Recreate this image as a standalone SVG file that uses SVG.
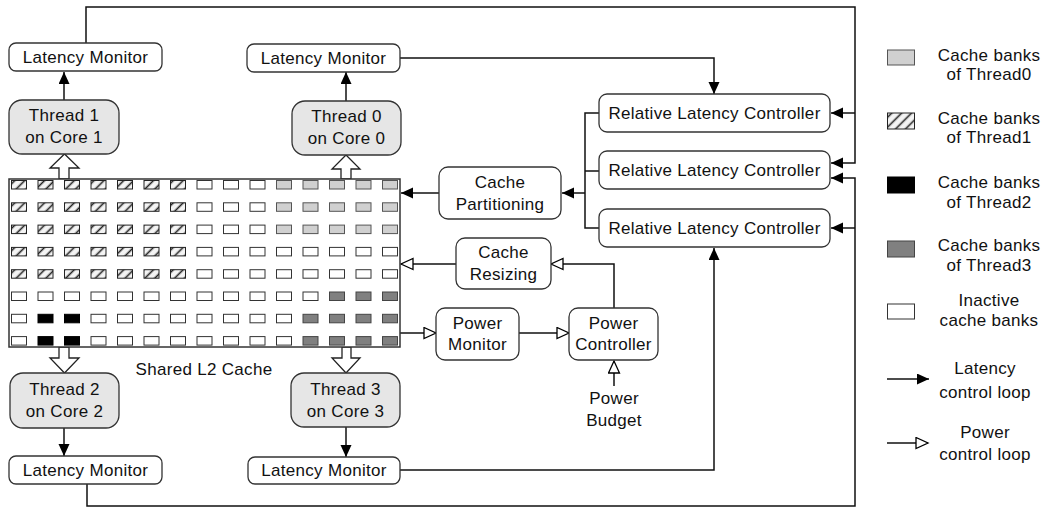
<svg xmlns="http://www.w3.org/2000/svg" xmlns:xlink="http://www.w3.org/1999/xlink" width="1044" height="508" viewBox="0 0 1044 508">
<style>
text{font-family:"Liberation Sans",Arial,sans-serif;font-size:17px;fill:#111;text-anchor:middle;dominant-baseline:central;letter-spacing:0.3px}
.box{fill:#fff;stroke:#333;stroke-width:1.3}
.thr{fill:#e6e6e6;stroke:#333;stroke-width:1.3}
.ln{fill:none;stroke:#111;stroke-width:1.5}
.lat{marker-end:url(#fa)}
.pow{marker-end:url(#ha)}
.blk{fill:#fff;stroke:#222;stroke-width:1.3}
.e{fill:#fff;stroke:#333;stroke-width:1}
.t0{fill:#d0d0d0;stroke:#555;stroke-width:1}
.t1{fill:url(#hatch);stroke:#222;stroke-width:1}
.t2{fill:#000;stroke:#000;stroke-width:1}
.t3{fill:#808080;stroke:#444;stroke-width:1}
</style>
<defs>
<marker id="fa" markerUnits="userSpaceOnUse" markerWidth="14" markerHeight="14" refX="12" refY="5.5" orient="auto">
<path d="M0,0 L12,5.5 L0,11 z" fill="#000"/>
</marker>
<marker id="ha" markerUnits="userSpaceOnUse" markerWidth="15" markerHeight="15" refX="13" refY="6.5" orient="auto">
<path d="M1,1 L13,6.5 L1,12 z" fill="#fff" stroke="#000" stroke-width="1.3"/>
</marker>
<pattern id="hatch" patternUnits="userSpaceOnUse" width="7" height="7" patternTransform="rotate(45)">
<rect width="7" height="7" fill="#f4f4f4"/>
<line x1="3.5" y1="0" x2="3.5" y2="7" stroke="#222" stroke-width="1.6"/>
</pattern>
<g id="rowA">
<rect class="t1" x="11.5" width="15" height="8.5"/><rect class="t1" x="38" width="15" height="8.5"/><rect class="t1" x="64.5" width="15" height="8.5"/><rect class="t1" x="91" width="15" height="8.5"/><rect class="t1" x="117.5" width="15" height="8.5"/><rect class="t1" x="144" width="15" height="8.5"/><rect class="t1" x="170.5" width="15" height="8.5"/><rect class="e" x="197" width="15" height="8.5"/><rect class="e" x="223.5" width="15" height="8.5"/><rect class="e" x="250" width="15" height="8.5"/><rect class="t0" x="276.5" width="15" height="8.5"/><rect class="t0" x="303" width="15" height="8.5"/><rect class="t0" x="329.5" width="15" height="8.5"/><rect class="t0" x="356" width="15" height="8.5"/><rect class="t0" x="382.5" width="15" height="8.5"/>
</g>
<g id="rowB">
<rect class="t1" x="11.5" width="15" height="8.5"/><rect class="t1" x="38" width="15" height="8.5"/><rect class="t1" x="64.5" width="15" height="8.5"/><rect class="t1" x="91" width="15" height="8.5"/><rect class="t1" x="117.5" width="15" height="8.5"/><rect class="t1" x="144" width="15" height="8.5"/><rect class="t1" x="170.5" width="15" height="8.5"/><rect class="e" x="197" width="15" height="8.5"/><rect class="e" x="223.5" width="15" height="8.5"/><rect class="e" x="250" width="15" height="8.5"/><rect class="e" x="276.5" width="15" height="8.5"/><rect class="e" x="303" width="15" height="8.5"/><rect class="e" x="329.5" width="15" height="8.5"/><rect class="e" x="356" width="15" height="8.5"/><rect class="e" x="382.5" width="15" height="8.5"/>
</g>
<g id="rowC">
<rect class="e" x="11.5" width="15" height="8.5"/><rect class="e" x="38" width="15" height="8.5"/><rect class="e" x="64.5" width="15" height="8.5"/><rect class="e" x="91" width="15" height="8.5"/><rect class="e" x="117.5" width="15" height="8.5"/><rect class="e" x="144" width="15" height="8.5"/><rect class="e" x="170.5" width="15" height="8.5"/><rect class="e" x="197" width="15" height="8.5"/><rect class="e" x="223.5" width="15" height="8.5"/><rect class="e" x="250" width="15" height="8.5"/><rect class="e" x="276.5" width="15" height="8.5"/><rect class="e" x="303" width="15" height="8.5"/><rect class="t3" x="329.5" width="15" height="8.5"/><rect class="t3" x="356" width="15" height="8.5"/><rect class="t3" x="382.5" width="15" height="8.5"/>
</g>
<g id="rowD">
<rect class="e" x="11.5" width="15" height="8.5"/><rect class="t2" x="38" width="15" height="8.5"/><rect class="t2" x="64.5" width="15" height="8.5"/><rect class="e" x="91" width="15" height="8.5"/><rect class="e" x="117.5" width="15" height="8.5"/><rect class="e" x="144" width="15" height="8.5"/><rect class="e" x="170.5" width="15" height="8.5"/><rect class="e" x="197" width="15" height="8.5"/><rect class="e" x="223.5" width="15" height="8.5"/><rect class="e" x="250" width="15" height="8.5"/><rect class="e" x="276.5" width="15" height="8.5"/><rect class="t3" x="303" width="15" height="8.5"/><rect class="t3" x="329.5" width="15" height="8.5"/><rect class="t3" x="356" width="15" height="8.5"/><rect class="t3" x="382.5" width="15" height="8.5"/>
</g>
</defs>
<rect width="1044" height="508" fill="#fff"/>

<g id="connectors">
<path class="ln lat" d="M86,43 V7 H855 V163 H831"/>
<path class="ln lat" d="M855,113 H831"/>
<path class="ln lat" d="M87,484 V506 H855 V178 H831"/>
<path class="ln lat" d="M855,228 H831"/>
<path class="ln lat" d="M400,58 H714 V94"/>
<path class="ln lat" d="M400,470 H714 V248"/>
<path class="ln lat" d="M64,100 V72"/>
<path class="ln lat" d="M346,101 V72"/>
<path class="ln lat" d="M64,428 V456"/>
<path class="ln lat" d="M346,427 V457"/>
<path class="ln" d="M599,113 H585 V228 H599 M585,171 H599"/>
<path class="ln lat" d="M585,193 H562"/>
<path class="ln lat" d="M439,193 H401"/>
<path class="ln pow" d="M456,264 H401"/>
<path class="ln pow" d="M614,308 V264 H551"/>
<path class="ln pow" d="M400,333 H436"/>
<path class="ln pow" d="M519,333 H569"/>
<path class="ln pow" d="M614,386 V361"/>
<polygon class="blk" points="59,179 59,168 50,168 64.5,154 79,168 69,168 69,179"/>
<polygon class="blk" points="341,179 341,169 332,169 346,155 360,169 351,169 351,179"/>
<polygon class="blk" points="59,347 59,358 50,358 64.5,373 79,358 69,358 69,347"/>
<polygon class="blk" points="342,347 342,358 332,358 346,373 360,358 351,358 351,347"/>
</g>

<g id="cache">
<rect x="9" y="179" width="391" height="168" fill="#fff" stroke="#333" stroke-width="1.5"/>
<use xlink:href="#rowA" y="180.5"/>
<use xlink:href="#rowA" y="202.8"/>
<use xlink:href="#rowA" y="225.1"/>
<use xlink:href="#rowB" y="247.4"/>
<use xlink:href="#rowB" y="269.7"/>
<use xlink:href="#rowC" y="292"/>
<use xlink:href="#rowD" y="314.3"/>
<use xlink:href="#rowD" y="336.6"/>
<text x="204" y="369">Shared L2 Cache</text>
</g>

<g id="lm1"><rect class="box" x="9" y="43" width="153" height="28" rx="7"/><text x="85.5" y="57.5">Latency Monitor</text></g>
<g id="lm0"><rect class="box" x="247" y="44" width="153" height="28" rx="7"/><text x="323.5" y="58">Latency Monitor</text></g>
<g id="lm2"><rect class="box" x="9" y="456" width="153" height="28" rx="7"/><text x="85.5" y="470">Latency Monitor</text></g>
<g id="lm3"><rect class="box" x="248" y="457" width="152" height="27" rx="7"/><text x="324" y="470.5">Latency Monitor</text></g>

<g id="t1"><rect class="thr" x="9" y="100" width="110" height="54" rx="13"/><text x="64" y="115">Thread 1</text><text x="64" y="137">on Core 1</text></g>
<g id="t0"><rect class="thr" x="292" y="101" width="109" height="54" rx="13"/><text x="346.5" y="116">Thread 0</text><text x="346.5" y="138">on Core 0</text></g>
<g id="t2"><rect class="thr" x="10" y="373" width="109" height="55" rx="13"/><text x="64.5" y="389">Thread 2</text><text x="64.5" y="411">on Core 2</text></g>
<g id="t3"><rect class="thr" x="291" y="373" width="109" height="54" rx="13"/><text x="345.5" y="389">Thread 3</text><text x="345.5" y="411">on Core 3</text></g>

<g id="cp"><rect class="box" x="439" y="167" width="122" height="52" rx="9"/><text x="500" y="182">Cache</text><text x="500" y="204">Partitioning</text></g>
<g id="cr"><rect class="box" x="456" y="238" width="95" height="51" rx="9"/><text x="503.5" y="252">Cache</text><text x="503.5" y="274">Resizing</text></g>
<g id="pm"><rect class="box" x="436" y="308" width="83" height="52" rx="9"/><text x="477.5" y="323">Power</text><text x="477.5" y="344">Monitor</text></g>
<g id="pc"><rect class="box" x="569" y="308" width="89" height="52" rx="9"/><text x="613.5" y="323">Power</text><text x="613.5" y="344">Controller</text></g>
<g id="pb"><text x="614" y="398">Power</text><text x="614" y="420">Budget</text></g>

<g id="rlc1"><rect class="box" x="599" y="94" width="231" height="38" rx="8"/><text x="714.5" y="113">Relative Latency Controller</text></g>
<g id="rlc2"><rect class="box" x="599" y="151" width="231" height="38" rx="8"/><text x="714.5" y="170">Relative Latency Controller</text></g>
<g id="rlc3"><rect class="box" x="599" y="209" width="231" height="38" rx="8"/><text x="714.5" y="228">Relative Latency Controller</text></g>

<g id="legend">
<rect class="t0" x="887.5" y="50" width="27" height="15"/>
<text x="989" y="55">Cache banks</text><text x="989" y="74">of Thread0</text>
<rect class="t1" x="887.5" y="113" width="27" height="16"/>
<text x="989" y="118">Cache banks</text><text x="989" y="137">of Thread1</text>
<rect class="t2" x="887.5" y="177" width="27" height="16"/>
<text x="989" y="182">Cache banks</text><text x="989" y="202">of Thread2</text>
<rect class="t3" x="887.5" y="241" width="27" height="16"/>
<text x="989" y="245">Cache banks</text><text x="989" y="265">of Thread3</text>
<rect class="e" x="887.5" y="304" width="27" height="15"/>
<text x="989" y="300">Inactive</text><text x="989" y="320">cache banks</text>
<path class="ln lat" d="M887,379 H929"/>
<text x="985" y="368">Latency</text><text x="985" y="392">control loop</text>
<path class="ln pow" d="M887,443 H928"/>
<text x="985" y="432">Power</text><text x="985" y="454">control loop</text>
</g>
</svg>
